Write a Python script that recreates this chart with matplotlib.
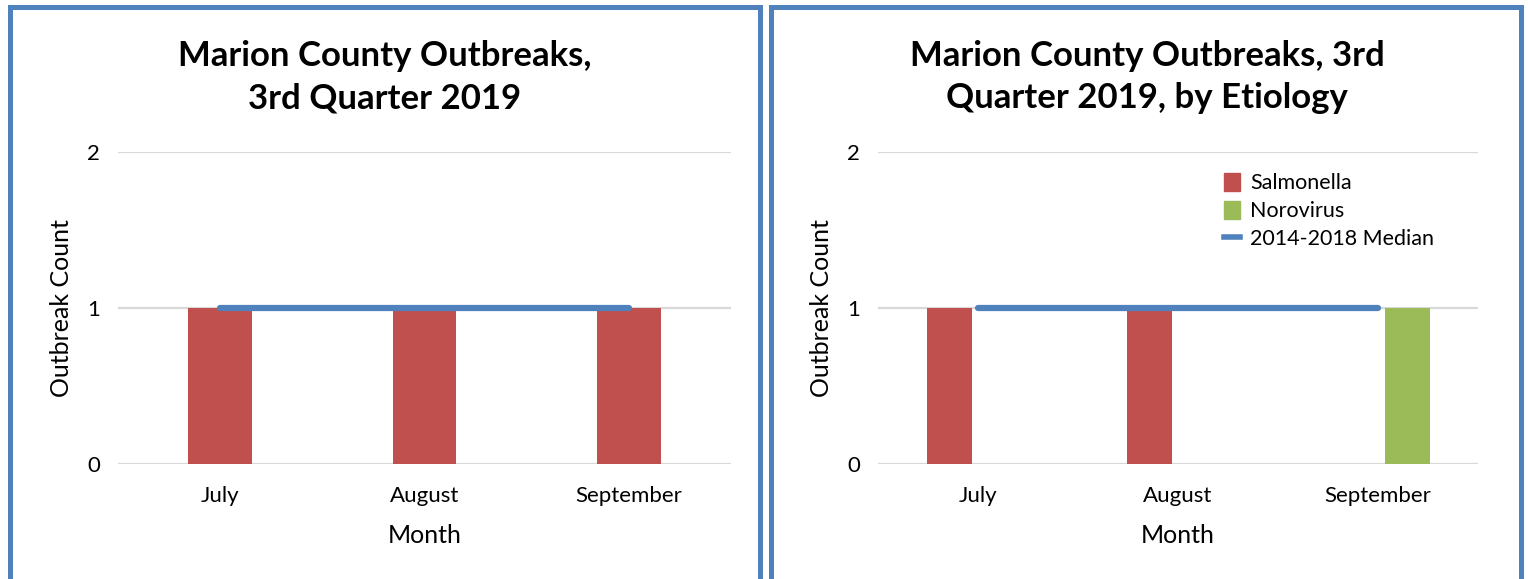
import numpy as np
import matplotlib
matplotlib.use('Agg')
from matplotlib import pyplot as plt
from matplotlib.patches import Patch, Rectangle
from matplotlib.lines import Line2D

# chart data
months = ['July', 'August', 'September']
outbreaks_total = [1, 1, 1]
salmonella = [1, 1, 0]
norovirus = [0, 0, 1]
median_2014_2018 = [1, 1, 1]
y_ticks = [0, 1, 2]

RED = '#c0504d'
GREEN = '#9bbb59'
BLUE = '#4f81bd'
GRID = '#d9d9d9'

plt.rcParams['font.family'] = ['Lato', 'DejaVu Sans']

W, H = 1528, 579
fig = plt.figure(figsize=(W / 100, H / 100), dpi=100)


def px_axes(x0, x1, y0, y1):
    # pixel box -> figure fraction
    return fig.add_axes([x0 / W, 1 - y1 / H, (x1 - x0) / W, (y1 - y0) / H])


def style_axes(ax):
    ax.set_xlim(-0.5, 2.5)
    ax.set_ylim(0, 2)
    ax.set_yticks(y_ticks)
    ax.set_yticklabels([str(t) for t in y_ticks], fontsize=16)
    ax.set_xticks(range(len(months)))
    ax.set_xticklabels(months, fontsize=16)
    for s in ax.spines.values():
        s.set_visible(False)
    ax.tick_params(axis='both', length=0)
    ax.tick_params(axis='y', pad=13)
    ax.tick_params(axis='x', pad=16)
    for t in y_ticks:
        ax.axhline(t, color=GRID, linewidth=1.6, zorder=0)
    ax.set_xlabel('Month', fontsize=18, labelpad=13)
    ax.set_ylabel('Outbreak Count', fontsize=18, labelpad=10)


x = np.arange(len(months))

# left chart
ax1 = px_axes(118, 731, 152, 464)
style_axes(ax1)
ax1.bar(x, outbreaks_total, width=0.31, color=RED, zorder=2)
ax1.plot(x, median_2014_2018, color=BLUE, linewidth=4.5,
         solid_capstyle='round', zorder=3)
fig.text(385 / W, 1 - 77 / H, 'Marion County Outbreaks,\n3rd Quarter 2019',
         ha='center', va='center', fontsize=25, fontweight='bold',
         linespacing=1.4)

# right chart
ax2 = px_axes(878, 1478, 152, 464)
style_axes(ax2)
ax2.bar(x - 0.142, salmonella, width=0.225, color=RED, zorder=2)
ax2.bar(x + 0.147, norovirus, width=0.225, color=GREEN, zorder=2)
ax2.plot(x, median_2014_2018, color=BLUE, linewidth=4.5,
         solid_capstyle='round', zorder=3)
fig.text(1147 / W, 1 - 77 / H, 'Marion County Outbreaks, 3rd\nQuarter 2019, by Etiology',
         ha='center', va='center', fontsize=25, fontweight='bold',
         linespacing=1.4)

handles = [Patch(facecolor=RED, edgecolor=RED),
           Patch(facecolor=GREEN, edgecolor=GREEN),
           Line2D([0], [0], color=BLUE, linewidth=4)]
fig.legend(handles, ['Salmonella', 'Norovirus', '2014-2018 Median'],
           loc='upper left', bbox_to_anchor=(1224 / W, 1 - 173 / H),
           frameon=False, fontsize=15.5, handlelength=0.75, handleheight=0.9,
           handletextpad=0.45, labelspacing=0.35, borderaxespad=0, borderpad=0)

# panel borders
for x0, x1 in [(10, 759.5), (770.5, 1521)]:
    fig.add_artist(Rectangle((x0 / W, -0.1), (x1 - x0) / W, 1.1 - 7 / H,
                             transform=fig.transFigure, fill=False,
                             edgecolor=BLUE, linewidth=3.6, clip_on=False))

fig.savefig('out.png', dpi=100, facecolor='white')
